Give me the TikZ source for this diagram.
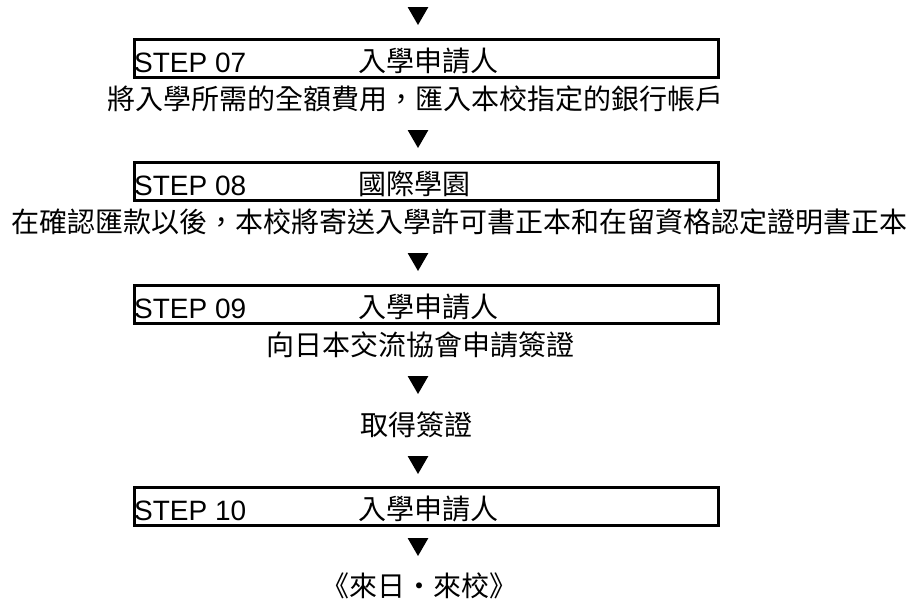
\documentclass[tikz,border=0pt]{standalone}
\usepackage{fontspec}
\newfontfamily\cjk{Noto Sans CJK TC}
\newfontfamily\latf{Liberation Sans}
\usetikzlibrary{shapes.geometric}
\begin{document}
\begin{tikzpicture}[x=1pt,y=-1pt,
  stepbox/.style={draw, line width=3pt, minimum width=584pt, minimum height=38pt, inner sep=0pt},
  steplabel/.style={font=\latf\fontsize{28}{30}\selectfont, anchor=base west, inner sep=0pt},
  who/.style={font=\cjk\fontsize{28}{32}\selectfont, anchor=base west, inner sep=0pt},
  desc/.style={font=\cjk\fontsize{28}{32}\selectfont, inner sep=0pt},
  tri/.style={regular polygon, regular polygon sides=3, shape border rotate=180, fill=black, minimum size=24pt, inner sep=0pt}]
\path[use as bounding box] (0,0) rectangle (909,605);

% step 07
\node[tri] (t1) at (418,13) {};
\node[stepbox] (b1) at (426.5,58.5) {};
\node[steplabel] (s1) at (134,72) {STEP 07};
\node[who] (w1) at (358,71) {入學申請人};
\node[desc] (d1) at (415,99) {將入學所需的全額費用，匯入本校指定的銀行帳戶};

% step 08
\node[tri] (t2) at (418,136) {};
\node[stepbox] (b2) at (426.5,181.5) {};
\node[steplabel] (s2) at (134,195) {STEP 08};
\node[who] (w2) at (358,194) {國際學園};
\node[desc] (d2) at (459,222) {在確認匯款以後，本校將寄送入學許可書正本和在留資格認定證明書正本};

% step 09
\node[tri] (t3) at (418,259) {};
\node[stepbox] (b3) at (426.5,304.5) {};
\node[steplabel] (s3) at (134,318) {STEP 09};
\node[who] (w3) at (358,317) {入學申請人};
\node[desc] (d3) at (420,345) {向日本交流協會申請簽證};

\node[tri] (t4) at (418,382) {};
\node[desc] (v) at (416,425) {取得簽證};

% step 10
\node[tri] (t5) at (418,462) {};
\node[stepbox] (b4) at (426.5,506.5) {};
\node[steplabel] (s4) at (134,520) {STEP 10};
\node[who] (w4) at (358,519) {入學申請人};

\node[tri] (t6) at (418,544) {};
\node[desc] (f) at (419,586) {《來日・來校》};
\end{tikzpicture}
\end{document}
